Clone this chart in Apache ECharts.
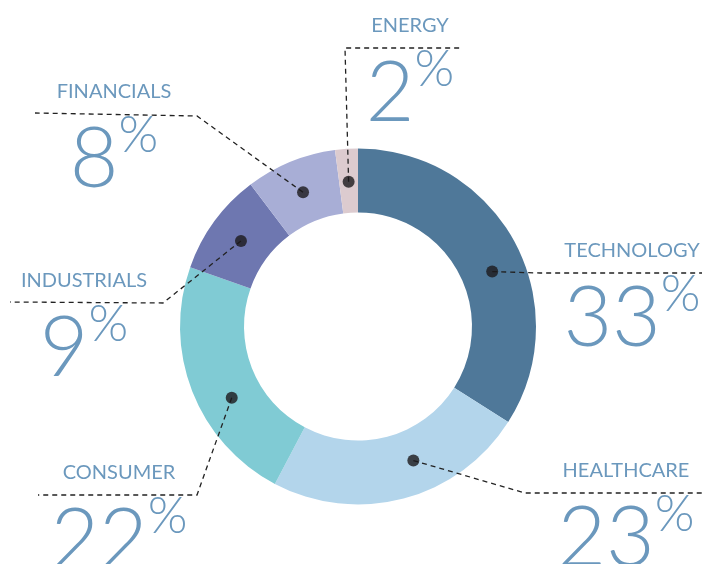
<!DOCTYPE html>
<html lang="en">
<head>
    <meta charset="UTF-8">
    <title>Sector weights</title>
    <script src="https://cdn.jsdelivr.net/npm/echarts@6/dist/echarts.min.js"></script>
    <style>
        html, body { margin: 0; padding: 0; background: #fff; }
        #chart { width: 702px; height: 564px; }
    </style>
</head>
<body>
    <div id="chart"></div>
    <script>
        // data
        var sectors = ['TECHNOLOGY', 'HEALTHCARE', 'CONSUMER', 'INDUSTRIALS', 'FINANCIALS', 'ENERGY'];
        var weights = [33, 23, 22, 9, 8, 2];

        // styles / layout
        var sliceColors = ['#4f7899', '#b3d5eb', '#80cbd4', '#6e77b0', '#a8aed6', '#dccbcf'];
        var textColor = '#6b98bd';
        var cx = 358, cy = 326.5, rIn = 114, rOut = 178, rDot = 145;
        // small angle shift of the marker dot inside each slice (degrees)
        var dotShift = [6.5, -7.6, -8.1, 0, 0, 0];
        // where each label sits: centre x of the text, y of the dashed rule, elbow and end of the leader
        var labelPlaces = [
            { x: 632, lineY: 273, elbow: [540, 273], end: [702, 273] },
            { x: 626, lineY: 493, elbow: [525, 493], end: [702, 493] },
            { x: 119, lineY: 495, elbow: [197, 495], end: [38, 495] },
            { x: 84,  lineY: 303, elbow: [163, 303], end: [10, 302] },
            { x: 114, lineY: 114, elbow: [197, 116], end: [35, 113] },
            { x: 410, lineY: 48,  elbow: [345, 48],  end: [463, 48] }
        ];

        var total = weights.reduce(function (a, b) { return a + b; }, 0);
        var dotAngles = [];
        var acc = 0;
        weights.forEach(function (w, i) {
            dotAngles.push(acc + w / 2 + dotShift[i] * total / 360);
            acc += w;
        });

        function dotPixel(i) {
            var deg = dotAngles[i] / total * 360;
            var rad = deg * Math.PI / 180;
            return [cx + rDot * Math.sin(rad), cy - rDot * Math.cos(rad)];
        }

        var chart = echarts.init(document.getElementById('chart'));

        var pieData = sectors.map(function (s, i) {
            return { name: s, value: weights[i], itemStyle: { color: sliceColors[i] } };
        });

        var option = {
            animation: false,
            polar: { center: [cx, cy], radius: rOut },
            angleAxis: { show: false, min: 0, max: total, startAngle: 90, clockwise: true },
            radiusAxis: { show: false, min: 0, max: rOut },
            series: [
                {
                    // the ring
                    type: 'pie',
                    z: 1,
                    center: [cx, cy],
                    radius: [rIn, rOut],
                    startAngle: 90,
                    clockwise: true,
                    silent: true,
                    label: { show: false },
                    labelLine: { show: false },
                    data: pieData
                },
                {
                    // same ring, invisible, only carries the labels and leaders on top
                    type: 'pie',
                    z: 3,
                    center: [cx, cy],
                    radius: [rIn, rOut],
                    startAngle: 90,
                    clockwise: true,
                    avoidLabelOverlap: false,
                    silent: true,
                    itemStyle: { color: 'rgba(0,0,0,0)' },
                    data: sectors.map(function (s, i) {
                        return { name: s, value: weights[i] };
                    }),
                    label: {
                        show: true,
                        position: 'outside',
                        color: textColor,
                        fontFamily: 'Lato',
                        formatter: function (p) {
                            return '{n|' + p.name + '}\n{p|' + p.value + '}{s|%}';
                        },
                        rich: {
                            n: { fontSize: 20, lineHeight: 36, color: textColor, fontFamily: 'Lato' },
                            p: { fontSize: 84, lineHeight: 100, color: textColor, fontFamily: 'Lato', fontWeight: 300 },
                            s: { fontSize: 51, lineHeight: 48, color: textColor, fontFamily: 'Lato', fontWeight: 300, verticalAlign: 'top' }
                        }
                    },
                    labelLine: {
                        show: true,
                        smooth: false,
                        lineStyle: { color: '#222', width: 1.3, type: [5, 4] }
                    },
                    labelLayout: function (params) {
                        var i = params.dataIndex;
                        var pl = labelPlaces[i];
                        return {
                            x: pl.x,
                            y: pl.lineY - 40,
                            align: 'center',
                            verticalAlign: 'top',
                            labelLinePoints: [dotPixel(i), pl.elbow, pl.end]
                        };
                    }
                },
                {
                    type: 'scatter',
                    coordinateSystem: 'polar',
                    symbol: 'circle',
                    symbolSize: 12,
                    silent: true,
                    z: 5,
                    itemStyle: { color: '#1c191b' },
                    data: dotAngles.map(function (a) { return [rDot, a]; })
                }
            ]
        };

        chart.setOption(option);
    </script>
</body>
</html>
